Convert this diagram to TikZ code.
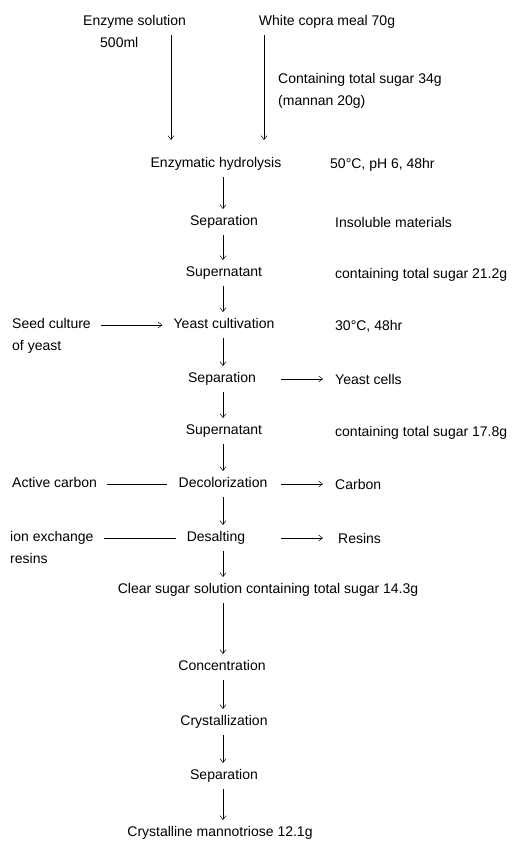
\documentclass[tikz,border=0pt]{standalone}
\usepackage{fontspec}
\setmainfont{Liberation Sans}
\usetikzlibrary{arrows.meta, positioning}

\tikzset{
    % Flow sheet
    sheetPic/.style={x=1pt, y=-1pt},
    stepNode/.style={inner xsep=11pt, inner ysep=6pt, text height=10.5pt, text depth=3pt, font=\fontsize{14}{16}\selectfont},
    noteNode/.style={anchor=base west, inner sep=0pt, font=\fontsize{14}{16}\selectfont},
    feedNode/.style={anchor=north west, inner xsep=10pt, inner ysep=0pt, align=left, font=\fontsize{14}{22.5}\selectfont},
    % Connectors
    flowArrow/.style={-{Straight Barb[length=4pt, width=6pt]}, line width=0.5pt},
    flowLine/.style={line width=0.5pt}
}

\begin{document}
\begin{tikzpicture}[sheetPic]
    \useasboundingbox (0,0) rectangle (518,842);
    \coordinate (axis) at (223,0);
    \coordinate (outX) at (281,0);
    \coordinate (rightX) at (264,0);
    \coordinate (leftTop) at (171,35);

    % Raw materials
    \node[feedNode] (enz) at (73,15) {Enzyme solution\\\hspace*{17pt}500ml};
    \node[stepNode] (copra) at (327,22) {White copra meal 70g};
    \node[feedNode] (sugar) at (268,73) {Containing total sugar 34g\\(mannan 20g)};

    % Main line
    \node[stepNode] (hydro) at (216,164) {Enzymatic hydrolysis};
    \node[stepNode] (sepA) at (224,222) {Separation};
    \node[stepNode] (superA) at (224,273) {Supernatant};
    \node[stepNode] (yeast) at (224,325) {Yeast cultivation};
    \node[stepNode] (sepB) at (222,379) {Separation};
    \node[stepNode] (superB) at (224,431) {Supernatant};
    \node[stepNode] (decol) at (223,484) {Decolorization};
    \node[stepNode] (desalt) at (216,538) {Desalting};
    \node[stepNode] (clear) at (268,590) {Clear sugar solution containing total sugar 14.3g};
    \node[stepNode] (conc) at (222,667) {Concentration};
    \node[stepNode] (cryst) at (224,722) {Crystallization};
    \node[stepNode] (sepC) at (224,776) {Separation};
    \node[stepNode] (product) at (220,833) {Crystalline mannotriose 12.1g};

    % Conditions and by-products
    \node[noteNode] (condA) at (330,169) {50\textdegree C, pH 6, 48hr};
    \node[noteNode] (waste) at (335,227) {Insoluble materials};
    \node[noteNode] (totalA) at (335,278) {containing total sugar 21.2g};
    \node[noteNode] (condB) at (335,330) {30\textdegree C, 48hr};
    \node[noteNode] (cells) at (335,384) {Yeast cells};
    \node[noteNode] (totalB) at (335,436) {containing total sugar 17.8g};
    \node[noteNode] (carbonOut) at (335,489) {Carbon};
    \node[noteNode] (resinOut) at (338,543) {Resins};

    % Additions
    \node[feedNode] (seed) at (2,318) {Seed culture\\of yeast};
    \node[feedNode] (carbonIn) at (2,477) {Active carbon};
    \node[feedNode] (ionIn) at (0,531) {ion exchange\\resins};

    % Feed arrows
    \draw[flowArrow, shorten >=11pt] (leftTop) -- (leftTop |- hydro.north);
    \draw[flowArrow, shorten >=11pt] (copra.south -| rightX) -- (rightX |- hydro.north);

    \foreach \a/\b in {hydro/sepA, sepA/superA, superA/yeast, yeast/sepB, sepB/superB,
        superB/decol, decol/desalt, desalt/clear, clear/conc, conc/cryst, cryst/sepC, sepC/product}
        \draw[flowArrow] (\a.south -| axis) -- (\b.north -| axis);

    \draw[flowArrow] (seed.east |- yeast) -- (yeast.west);
    \draw[flowLine] (carbonIn.east |- decol) -- (decol.west);
    \draw[flowLine] (ionIn.east |- desalt) -- (desalt.west);

    \draw[flowArrow, shorten >=12pt] (sepB -| outX) -- (sepB -| cells.west);
    \draw[flowArrow, shorten >=12pt] (decol -| outX) -- (decol -| carbonOut.west);
    \draw[flowArrow, shorten >=15pt] (desalt -| outX) -- (desalt -| resinOut.west);
\end{tikzpicture}
\end{document}
